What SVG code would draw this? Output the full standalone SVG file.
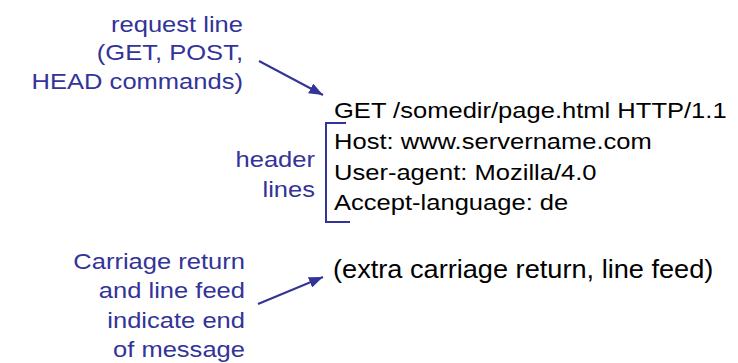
<svg xmlns="http://www.w3.org/2000/svg" width="738" height="363" viewBox="0 0 738 363">
<defs>
<style>
.lbl{font-family:"Liberation Sans",Arial,sans-serif;font-size:22.6px;fill:#333399;text-anchor:end}
.msg{font-family:"Liberation Sans",Arial,sans-serif;font-size:22.6px;fill:#000000}
.big{font-size:26px}
.con{stroke:#333399;stroke-width:2;fill:none}
</style>
<marker id="ah" viewBox="0 0 10 10" refX="10" refY="5" markerWidth="14" markerHeight="11" markerUnits="userSpaceOnUse" orient="auto" preserveAspectRatio="none">
<path d="M0,0 L10,5 L0,10 z" fill="#333399"/>
</marker>
</defs>
<rect width="738" height="363" fill="#ffffff"/>
<g id="request-label">
<text class="lbl" transform="translate(243,31.5) scale(1.13,1)">request line</text>
<text class="lbl" transform="translate(243,60) scale(1.13,1)">(GET, POST,</text>
<text class="lbl" transform="translate(243,88.5) scale(1.13,1)">HEAD commands)</text>
</g>
<g id="header-label">
<text class="lbl" transform="translate(315,166.5) scale(1.13,1)">header</text>
<text class="lbl" transform="translate(315,197) scale(1.13,1)">lines</text>
</g>
<g id="crlf-label">
<text class="lbl" transform="translate(245,268.5) scale(1.13,1)">Carriage return</text>
<text class="lbl" transform="translate(245,298) scale(1.13,1)">and line feed</text>
<text class="lbl" transform="translate(245,327.5) scale(1.13,1)">indicate end</text>
<text class="lbl" transform="translate(245,357) scale(1.13,1)">of message</text>
</g>
<g id="message">
<text class="msg" transform="translate(334,118) scale(1.13,1)">GET /somedir/page.html HTTP/1.1</text>
<text class="msg" transform="translate(334,149) scale(1.13,1)">Host: www.servername.com</text>
<text class="msg" transform="translate(334,179.5) scale(1.13,1)">User-agent: Mozilla/4.0</text>
<text class="msg" transform="translate(334,210) scale(1.13,1)">Accept-language: de</text>
<text class="msg big" transform="translate(333,278) scale(1.045,1)">(extra carriage return, line feed)</text>
</g>
<g id="connectors">
<path class="con" d="M259,61 L323,95" marker-end="url(#ah)"/>
<path class="con" d="M258,304 L323,277" marker-end="url(#ah)"/>
<path class="con" d="M346,123 L326,123 L326,222 L350,222"/>
</g>
</svg>
